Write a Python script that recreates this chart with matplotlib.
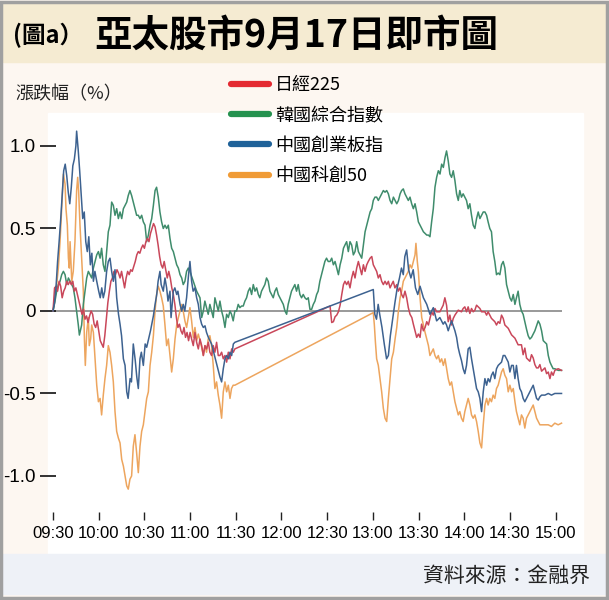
import matplotlib.pyplot as plt
from matplotlib.lines import Line2D
from matplotlib.patches import Rectangle

# (minutes after 09:30, % change)
nikkei = [
    (0, 0), (1, 0.14), (2, 0.15), (3, 0.12), (4, 0.18), (5, 0.15), (6, 0.08), (7, 0.12), (8, 0.14),
    (9, 0.18), (10, 0.16), (11, 0.18), (12, 0.16), (13, 0.18), (14, 0.12), (15, 0.14), (16, 0.1),
    (17, 0.06), (18, 0.02), (19, -0.02), (20, 0.01), (21, -0.05), (22, -0.03), (23, -0.07), (24, -0.03),
    (25, 0.0), (26, -0.02), (27, -0.08), (28, -0.1), (29, -0.06), (30, -0.12), (31, -0.18), (32, -0.2),
    (33, -0.22), (34, -0.15), (35, -0.05), (36, 0.05), (37, 0.12), (38, 0.18), (39, 0.2), (40, 0.24),
    (41, 0.22), (42, 0.25), (43, 0.23), (44, 0.2), (45, 0.24), (46, 0.19), (47, 0.14), (48, 0.2),
    (49, 0.24), (50, 0.22), (51, 0.25), (52, 0.24), (53, 0.27), (54, 0.3), (55, 0.34), (56, 0.36),
    (57, 0.35), (58, 0.38), (59, 0.4), (60, 0.38), (61, 0.42), (62, 0.44), (63, 0.42), (64, 0.47),
    (65, 0.5), (66, 0.53), (67, 0.51), (68, 0.46), (69, 0.4), (70, 0.33), (71, 0.28), (72, 0.26),
    (73, 0.3), (74, 0.25), (75, 0.2), (76, 0.24), (77, 0.2), (78, 0.14), (79, 0.1), (80, 0.04),
    (81, -0.04), (82, -0.1), (83, -0.08), (84, -0.12), (85, -0.14), (86, -0.1), (87, -0.16), (88, -0.13),
    (89, -0.18), (90, -0.13), (91, -0.17), (92.1, -0.21), (93.2, -0.13), (94.3, -0.19), (95.4, -0.23),
    (96.5, -0.17), (97.6, -0.21), (98.7, -0.27), (99.8, -0.21), (100.8, -0.23), (102, -0.19),
    (103, -0.25), (104.1, -0.27), (105.2, -0.21), (106.3, -0.25), (107.4, -0.19), (108.5, -0.27),
    (109.6, -0.27), (110.7, -0.25), (111.8, -0.29), (112.9, -0.27), (114, -0.31), (115.1, -0.25),
    (116.2, -0.29), (117.3, -0.23), (118.4, -0.25), (119.4, -0.23),
    (181.9, 0.03), (183, -0.07), (184.1, -0.065), (185.2, -0.035), (186.3, -0.025), (187.4, -0.005),
    (188.5, 0.035), (189.6, 0.1), (190.7, 0.16), (191.7, 0.18), (192.8, 0.16), (193.9, 0.18),
    (195, 0.14), (196.1, 0.2), (197.2, 0.24), (198.3, 0.2), (199.4, 0.26), (200.5, 0.3), (201.6, 0.26),
    (202.7, 0.22), (203.8, 0.28), (204.9, 0.24), (206, 0.28), (207, 0.3), (208.2, 0.32), (209.3, 0.33),
    (210.3, 0.28), (211.4, 0.26), (212.5, 0.24), (213.6, 0.2), (214.7, 0.22), (215.8, 0.18),
    (216.9, 0.16), (218, 0.18), (219.1, 0.16), (220.2, 0.18), (221.3, 0.14), (222.3, 0.16),
    (223.4, 0.18), (224.5, 0.14), (225.7, 0.16), (226.7, 0.12), (227.8, 0.14), (228.9, 0.1),
    (230, 0.08), (231.1, 0.12), (232.2, 0.08), (233.3, 0.02), (234.4, -0.02), (235.6, -0.04),
    (236.6, -0.08), (237.7, -0.12), (238.8, -0.16), (239.9, -0.14), (241, -0.16), (242, -0.08),
    (243.2, -0.12), (244.3, -0.1), (245.4, -0.065), (246.5, -0.085), (247.5, -0.045), (248.6, -0.005),
    (249.7, -0.025), (250.8, 0.015), (251.9, -0.005), (254, -0.005), (256.2, 0.035), (257.3, 0.08),
    (258.4, 0.035), (259.5, -0.065), (260.6, -0.025), (261.7, -0.085), (262.8, -0.045), (263.9, -0.025),
    (266.1, 0.005), (268.2, -0.005), (269.3, 0.015), (270.4, 0.025), (271.5, -0.005), (272.6, 0.025),
    (273.7, -0.015), (274.8, 0.015), (275.9, -0.005), (277, 0.005), (278.1, 0.035), (279.2, 0.025),
    (280.3, 0.015), (281.4, -0.005), (283.6, -0.005), (284.7, -0.025), (285.7, -0.005), (286.8, -0.025),
    (287.9, -0.045), (290.1, -0.065), (291.2, -0.085), (292.3, -0.065), (293.4, -0.075), (294.5, -0.025),
    (295.6, -0.045), (296.7, -0.085), (298.9, -0.105), (301.1, -0.145), (303.3, -0.165), (305.4, -0.205),
    (307.6, -0.205), (308.7, -0.265), (309.8, -0.225), (310.9, -0.285), (313.1, -0.305), (314.2, -0.265),
    (315.3, -0.285), (316.4, -0.325), (317.5, -0.345), (318.6, -0.345), (319.7, -0.325), (320.8, -0.365),
    (321.9, -0.355), (323, -0.345), (324.1, -0.38), (325.2, -0.37), (326.3, -0.41), (327.3, -0.37),
    (328.4, -0.39), (329.5, -0.36), (331.7, -0.35), (333.9, -0.36),
]

kospi = [
    (0, 0), (1.3, 0.06), (2.4, 0.12), (3.5, 0.16), (4.6, 0.18), (5.7, 0.22), (6.8, 0.24), (7.9, 0.22),
    (9, 0.16), (10.1, 0.2), (11.2, 0.18), (12.3, 0.16), (13.3, 0.14), (14.4, 0.08), (15.5, 0.0),
    (16.6, -0.085), (17.3, -0.146), (18.8, -0.085), (19.9, 0.04), (21, 0.12), (22.1, 0.2), (23.2, 0.24),
    (24.3, 0.22), (25.4, 0.2), (26.5, 0.26), (27.6, 0.3), (28.7, 0.34), (29.8, 0.36), (30.9, 0.32),
    (31.9, 0.38), (33, 0.28), (34.1, 0.24), (35.2, 0.36), (36.3, 0.48), (37.4, 0.52), (38.5, 0.66),
    (39.6, 0.64), (40.7, 0.58), (41.8, 0.62), (42.9, 0.56), (44, 0.6), (45.1, 0.56), (46.2, 0.62),
    (47.3, 0.64), (48.4, 0.66), (49.4, 0.7), (50.5, 0.73), (51.6, 0.7), (52.7, 0.66), (53.8, 0.62),
    (54.9, 0.58), (56, 0.58), (57.1, 0.56), (58.2, 0.58), (59.3, 0.54), (60.4, 0.52), (61.5, 0.42),
    (62.6, 0.46), (63.7, 0.52), (64.8, 0.56), (65.9, 0.64), (67, 0.73), (68, 0.75), (69.1, 0.69),
    (70.2, 0.6), (71.3, 0.54), (72.4, 0.5), (73.5, 0.52), (74.6, 0.5), (75.7, 0.52), (76.8, 0.44),
    (77.9, 0.38), (79, 0.36), (80.1, 0.32), (81.2, 0.28), (82.3, 0.26), (83.4, 0.22), (84.5, 0.2),
    (85.5, 0.16), (86.6, 0.18), (87.7, 0.24), (88.8, 0.26), (89.9, 0.24), (92.1, 0.18), (94.3, 0.12),
    (96.5, 0.08), (97.6, -0.04), (98.7, 0.0), (99.7, 0.06), (100.8, 0.02), (101.9, -0.02), (103, 0.04),
    (104.1, 0.0), (105.2, -0.04), (106.3, 0.08), (107.4, 0.04), (108.5, 0.0), (109.6, 0.06),
    (110.7, 0.0), (111.8, -0.04), (112.9, -0.1), (114, -0.02), (115.1, -0.04), (116.2, 0.0),
    (117.2, -0.02), (118.3, -0.06), (119.4, 0.0), (120.5, 0.0), (121.6, 0.04), (122.7, 0.02),
    (123.8, 0.03), (124.9, 0.03), (126, 0.06), (127.1, 0.08), (128.2, 0.12), (129.3, 0.14),
    (130.4, 0.1), (131.5, 0.16), (132.6, 0.12), (133.7, 0.14), (134.8, 0.1), (135.8, 0.08),
    (136.9, 0.12), (138, 0.14), (139.1, 0.16), (140.2, 0.2), (141.3, 0.18), (142.4, 0.12),
    (143.5, 0.1), (144.6, 0.08), (145.7, 0.12), (146.8, 0.14), (147.9, 0.1), (149, 0.08), (150.1, 0.06),
    (151.2, 0.04), (152.3, 0.0), (153.4, -0.02), (154.4, 0.04), (155.5, 0.08), (156.6, 0.12),
    (157.7, 0.14), (158.8, 0.16), (159.9, 0.12), (161, 0.16), (162.1, 0.1), (163.2, 0.08), (164.3, 0.1),
    (165.4, 0.08), (166.5, 0.07), (167.6, 0.08), (168.7, 0.01), (169.8, 0.01), (170.9, 0.04),
    (172, 0.06), (173.1, 0.1), (174.1, 0.12), (175.2, 0.18), (176.3, 0.22), (177.4, 0.26),
    (178.5, 0.3), (179.6, 0.32), (180.7, 0.3), (181.9, 0.3), (183, 0.32), (184.1, 0.28), (185.2, 0.3),
    (186.3, 0.26), (187.4, 0.22), (188.5, 0.28), (189.6, 0.32), (190.7, 0.38), (191.7, 0.4),
    (192.8, 0.42), (193.9, 0.36), (195, 0.42), (196.1, 0.4), (197.2, 0.34), (198.3, 0.36),
    (199.4, 0.42), (200.5, 0.36), (201.6, 0.34), (202.7, 0.32), (203.8, 0.4), (204.9, 0.48),
    (206, 0.52), (207.1, 0.56), (208.2, 0.6), (209.3, 0.62), (210.3, 0.67), (211.4, 0.69),
    (212.5, 0.69), (213.6, 0.67), (214.7, 0.69), (215.8, 0.71), (216.9, 0.73), (218, 0.72),
    (219.1, 0.73), (220.2, 0.71), (221.3, 0.67), (222.4, 0.65), (223.5, 0.69), (224.6, 0.67),
    (225.7, 0.65), (226.8, 0.67), (227.9, 0.71), (228.9, 0.73), (230, 0.74), (231.1, 0.71),
    (232.2, 0.69), (233.3, 0.67), (234.4, 0.69), (235.5, 0.65), (236.6, 0.62), (237.7, 0.65),
    (238.8, 0.6), (239.9, 0.54), (241, 0.52), (242.1, 0.5), (243.2, 0.48), (244.3, 0.47),
    (245.4, 0.46), (246.5, 0.46), (247.5, 0.45), (248.6, 0.54), (249.7, 0.62), (250.8, 0.75),
    (251.9, 0.81), (253, 0.85), (254.1, 0.83), (255.2, 0.89), (256.3, 0.87), (257.4, 0.93),
    (258.4, 0.97), (259.5, 0.91), (260.6, 0.83), (261.7, 0.81), (262.8, 0.85), (263.9, 0.79),
    (265, 0.71), (266.1, 0.67), (267.1, 0.73), (268.2, 0.69), (269.3, 0.71), (270.4, 0.69),
    (271.5, 0.67), (272.6, 0.62), (273.7, 0.65), (274.8, 0.58), (275.9, 0.52), (277, 0.5),
    (278.1, 0.56), (279.2, 0.6), (280.3, 0.56), (281.4, 0.58), (282.5, 0.6), (283.6, 0.6),
    (284.7, 0.58), (285.7, 0.54), (286.8, 0.5), (287.9, 0.48), (289, 0.36), (290.1, 0.3),
    (291.2, 0.22), (292.3, 0.23), (293.4, 0.22), (294.5, 0.28), (295.6, 0.3), (296.7, 0.26),
    (297.8, 0.16), (298.9, 0.12), (300, 0.08), (301.1, 0.06), (302.2, 0.1), (303.3, 0.04),
    (304.3, 0.08), (305.4, 0.12), (306.5, 0.04), (307.6, 0.0), (308.7, -0.02), (309.8, -0.065),
    (310.9, -0.11), (312, -0.15), (313.1, -0.17), (314.2, -0.16), (315.3, -0.14), (316.4, -0.12),
    (317.5, -0.09), (318.6, -0.06), (319.7, -0.08), (320.8, -0.12), (321.9, -0.18), (323, -0.19),
    (324.1, -0.2), (325.2, -0.27), (326.3, -0.31), (327.3, -0.33), (328.4, -0.35), (329.5, -0.35),
    (331.7, -0.36), (333.9, -0.36),
]

chinext = [
    (0, 0), (1, 0.05), (2, 0.15), (3, 0.3), (4, 0.42), (5, 0.55), (6, 0.7), (7, 0.85), (8, 0.89),
    (9, 0.82), (10, 0.72), (11, 0.65), (12, 0.75), (13, 0.88), (14, 0.92), (15, 1.0), (15.5, 1.09),
    (16.5, 0.98), (17.5, 0.85), (18.5, 0.7), (19.5, 0.56), (20.5, 0.6), (21.5, 0.42), (22.5, 0.36),
    (23.5, 0.45), (24.5, 0.28), (25.5, 0.35), (26.5, 0.18), (27.5, 0.24), (28.7, 0.18), (30, 0.12),
    (31, 0.08), (32, 0.14), (33, 0.08), (34, 0.12), (35.2, 0.24), (36.3, 0.3), (37.4, 0.32),
    (38.5, 0.24), (39.6, 0.18), (40.7, 0.25), (41.8, 0.08), (43, -0.02), (44, -0.08), (45, -0.15),
    (46.2, -0.29), (47.3, -0.33), (48.4, -0.49), (49.3, -0.53), (50.6, -0.41), (51.5, -0.43),
    (52.7, -0.2), (54, -0.3), (55, -0.4), (56, -0.47), (57.1, -0.29), (58, -0.25), (59.3, -0.33),
    (60.5, -0.2), (61.5, -0.22), (63, -0.16), (64, -0.12), (65.9, -0.03), (67, 0.04), (68.1, 0.1),
    (69, 0.18), (70.2, 0.24), (71, 0.16), (72.4, 0.12), (73.5, 0.2), (74.6, 0.14), (75.5, 0.06),
    (76.8, 0.12), (77.5, -0.04), (79, 0.12), (80, 0.14), (81.2, 0.1), (82, 0.12), (83.4, 0.04),
    (84.5, 0.0), (85.5, 0.04), (86.5, 0.0), (87.7, 0.08), (89, 0.22), (89.9, 0.3), (91, 0.18),
    (92, 0.12), (93.2, 0.14), (94.3, 0.08), (95.4, 0.04), (96.5, -0.04), (97.6, -0.08), (98.7, -0.1),
    (99.8, -0.09), (100.8, -0.13), (102, -0.16), (103, -0.18), (104.1, -0.2), (105.2, -0.24),
    (106.3, -0.28), (107.4, -0.32), (108.5, -0.36), (109.6, -0.4), (110.7, -0.43), (111.8, -0.35),
    (112.9, -0.29), (114, -0.27), (115.1, -0.29), (116.2, -0.25), (117.3, -0.27), (118.4, -0.2),
    (119.4, -0.19),
    (210.3, 0.13), (211.3, -0.02), (212.4, -0.05), (213.5, 0.04), (214.5, -0.02), (216, -0.1),
    (217.5, -0.2), (219, -0.29), (220.2, -0.27), (221.5, -0.15), (223, -0.05), (224.5, 0.05),
    (226, 0.14), (227.5, 0.2), (228.8, 0.26), (230, 0.22), (231, 0.33), (232.2, 0.37), (233.5, 0.25),
    (235, 0.2), (236.5, 0.25), (238, 0.14), (239.5, 0.1), (241, 0.15), (243.2, 0.08), (245.4, 0.04),
    (247.5, -0.02), (249.7, 0.02), (251.9, -0.06), (254, -0.04), (256.2, -0.08), (257.3, -0.065),
    (258.4, -0.085), (259.5, -0.12), (260.7, -0.085), (261.7, -0.06), (263.9, -0.12), (265, -0.16),
    (266, -0.22), (267, -0.26), (268.2, -0.3), (269.3, -0.35), (270.4, -0.38), (271.5, -0.33),
    (272.6, -0.23), (273.7, -0.22), (274.8, -0.29), (275.9, -0.35), (277, -0.41), (278.1, -0.47),
    (279.2, -0.49), (280.3, -0.53), (281.4, -0.61), (282.5, -0.49), (283.6, -0.41), (284.7, -0.45),
    (285.7, -0.41), (286.8, -0.43), (287.9, -0.39), (289, -0.37), (290.1, -0.41), (291.2, -0.35),
    (292.3, -0.33), (294.5, -0.31), (295.6, -0.27), (296.7, -0.27), (297.8, -0.29), (298.9, -0.31),
    (300, -0.37), (301.1, -0.33), (302.2, -0.33), (303.3, -0.41), (304.3, -0.33), (305.4, -0.41),
    (306.5, -0.47), (307.6, -0.49), (308.7, -0.53), (309.8, -0.55), (310.9, -0.53), (312, -0.51),
    (313.1, -0.49), (314.2, -0.47), (315.3, -0.45), (316.4, -0.49), (317.5, -0.53), (318.6, -0.54),
    (319.7, -0.52), (320.8, -0.51), (323, -0.51), (325.2, -0.5), (327.3, -0.51), (329.5, -0.5),
    (331.7, -0.5), (333.9, -0.5),
]

star50 = [
    (0, 0), (1.3, 0.08), (2.4, 0.16), (3.5, 0.26), (4.6, 0.42), (5.7, 0.62), (6.8, 0.83), (7.9, 0.77),
    (8.5, 0.62), (9.4, 0.52), (10.1, 0.32), (10.7, 0.26), (11.2, 0.42), (11.8, 0.28), (12.3, 0.18),
    (13.3, 0.24), (14.4, 0.42), (15.5, 0.73), (16.2, 0.81), (16.8, 0.73), (17.7, 0.52), (18.8, 0.32),
    (19.9, 0.12), (20.6, -0.17), (21.2, -0.33), (22.1, -0.13), (23.2, -0.04), (23.8, -0.21),
    (24.7, -0.17), (25.4, -0.085), (26.5, -0.13), (27.6, -0.29), (28.7, -0.45), (29.8, -0.55),
    (30.9, -0.53), (31.9, -0.63), (33, -0.51), (34.1, -0.41), (35.2, -0.33), (36.3, -0.21),
    (37.4, -0.25), (38.5, -0.33), (39.6, -0.43), (40.7, -0.61), (41.8, -0.73), (42.9, -0.77),
    (44, -0.8), (45.1, -0.9), (46.2, -0.94), (47.3, -1.0), (48.4, -1.06), (49.4, -1.08), (50.5, -1.02),
    (51.6, -1.0), (52.7, -0.82), (53.8, -0.75), (54.9, -0.86), (56, -0.98), (57.1, -0.82),
    (58.2, -0.73), (59.3, -0.69), (60.4, -0.61), (61.5, -0.53), (62.6, -0.49), (63.7, -0.33),
    (64.8, -0.25), (65.9, -0.15), (67, 0.0), (68, 0.1), (69.1, 0.15), (70.2, 0.12), (71.3, 0.08),
    (72.4, 0.03), (73.5, -0.085), (74.6, -0.21), (75.7, -0.17), (76.8, -0.27), (77.9, -0.37),
    (79, -0.29), (80.1, -0.17), (81.2, -0.085), (82.3, -0.04), (83.4, 0.0), (84.5, 0.04), (85.5, 0.0),
    (86.6, -0.06), (87.7, -0.1), (88.8, -0.04), (89.9, 0.02), (91, -0.06), (92.1, -0.16), (93.2, -0.1),
    (94.3, -0.18), (95.4, -0.14), (96.5, -0.18), (97.6, -0.22), (98.7, -0.27), (99.7, -0.21),
    (100.8, -0.25), (101.9, -0.17), (103, -0.15), (104.1, -0.21), (105.2, -0.33), (106.3, -0.47),
    (107.4, -0.43), (108.5, -0.51), (109.6, -0.57), (110.7, -0.65), (111.8, -0.49), (112.9, -0.43),
    (114, -0.49), (115.1, -0.45), (116.2, -0.53), (117.2, -0.47), (118.3, -0.45), (119.4, -0.45),
    (210.3, -0.01), (211, -0.085), (211.7, -0.19), (212.5, -0.29), (213.6, -0.33), (214.7, -0.41),
    (215.8, -0.49), (216.9, -0.59), (218, -0.65), (219.1, -0.67), (220.2, -0.53), (221.3, -0.41),
    (222.4, -0.29), (223.5, -0.25), (224.6, -0.17), (225.7, -0.1), (226.8, 0.0), (227.9, 0.08),
    (228.9, 0.12), (230, 0.18), (231.1, 0.2), (232.2, 0.22), (233.3, 0.24), (234.4, 0.28),
    (235.5, 0.26), (236.6, 0.3), (237.7, 0.34), (238.3, 0.41), (239.2, 0.3), (239.9, 0.24),
    (241, 0.08), (242.1, -0.04), (243.2, -0.085), (244.3, -0.13), (245.4, -0.17), (246.5, -0.21),
    (247.5, -0.27), (248.6, -0.25), (249.7, -0.23), (250.8, -0.27), (251.9, -0.29), (253, -0.27),
    (254.1, -0.31), (255.2, -0.29), (256.3, -0.33), (257.4, -0.29), (259.5, -0.41), (260.6, -0.45),
    (261.7, -0.43), (262.8, -0.49), (263.9, -0.55), (265, -0.59), (266.1, -0.63), (267.1, -0.61),
    (268.2, -0.65), (269.3, -0.67), (270.4, -0.61), (271.5, -0.57), (272.6, -0.53), (273.7, -0.57),
    (274.8, -0.63), (275.9, -0.65), (277, -0.63), (278.1, -0.67), (279.2, -0.73), (280.3, -0.8),
    (281.4, -0.83), (282.5, -0.69), (283.6, -0.57), (284.7, -0.53), (285.7, -0.57), (286.8, -0.53),
    (287.9, -0.55), (289, -0.51), (290.1, -0.53), (291.2, -0.47), (292.3, -0.45), (293.4, -0.41),
    (294.5, -0.37), (295.6, -0.35), (296.7, -0.39), (297.8, -0.41), (298.9, -0.49), (300, -0.45),
    (301.1, -0.49), (302.2, -0.47), (303.3, -0.55), (304.3, -0.61), (305.4, -0.65), (306.5, -0.69),
    (307.6, -0.63), (308.7, -0.65), (309.8, -0.71), (310.9, -0.65), (312, -0.63), (313.1, -0.61),
    (314.2, -0.59), (315.3, -0.57), (316.4, -0.61), (317.5, -0.65), (318.6, -0.67), (319.7, -0.69),
    (320.8, -0.69), (323, -0.69), (325.2, -0.69), (327.3, -0.7), (329.5, -0.68), (331.7, -0.69),
    (333.9, -0.68),
]

names = ['日經225', '韓國綜合指數', '中國創業板指', '中國科創50']
line_cols = ['#c9475a', '#3f8c6c', '#3d6290', '#eda55e']
leg_cols = ['#e42a32', '#25924f', '#1f6299', '#f09b36']
tick_pos = [0, 30, 60, 90, 120, 150, 180, 210, 240, 270, 300, 330]
tick_lab = ['09:30', '10:00', '10:30', '11:00', '11:30', '12:00',
            '12:30', '13:00', '13:30', '14:00', '14:30', '15:00']
y_pos = [1.0, 0.5, 0, -0.5, -1.0]
y_lab = ['1.0', '0.5', '0', '-0.5', '-1.0']

cjk = ['Noto Sans CJK TC', 'DejaVu Sans']
num_font = ['Liberation Sans', 'DejaVu Sans']

W, H = 609, 600
fig = plt.figure(figsize=(W / 100, H / 100), dpi=100, facecolor='#fdf7f1')


def px(x, y, w, h):
    # pixel box (top-left origin) -> figure fraction
    return (x / W, 1 - (y + h) / H, w / W, h / H)


# background panels
for box, col in [((3, 3, 603, 59), '#f5ebd2'), ((48, 113, 535, 441), 'white'),
                 ((3, 554, 603, 40), '#eef1f7')]:
    x0, y0, w0, h0 = px(*box)
    fig.patches.append(Rectangle((x0, y0), w0, h0, transform=fig.transFigure, color=col, zorder=0))
fig.patches.append(Rectangle((0.002, 0.004), 0.994, 0.993, transform=fig.transFigure, fill=False,
                             edgecolor='#a0a0a0', lw=2.5, zorder=5))

ax = fig.add_axes(px(48, 113, 535, 407))
ax.set_facecolor('none')
ax.set_zorder(2)

series = [nikkei, kospi, chinext, star50]
ax.hlines(0, nikkei[0][0], nikkei[-1][0], color='#999999', lw=1.4, zorder=1)
for z, i in enumerate([3, 1, 0, 2]):
    t, v = zip(*series[i])
    ax.plot(t, v, color=line_cols[i], lw=1.1, zorder=2 + z)

ax.set_xlim(-3.3, 348)
ax.set_ylim(-1.267, 1.2)
for s in ax.spines.values():
    s.set_visible(False)

ax.set_xticks(tick_pos)
ax.set_xticklabels(tick_lab, family=num_font, fontsize=12)
ax.tick_params(axis='x', direction='in', length=6, width=1, color='#222222', pad=4)
ax.set_yticks(y_pos)
ax.set_yticklabels(y_lab, family=num_font, fontsize=13.5)
ax.tick_params(axis='y', direction='inout', length=11, width=1.3, color='#222222', pad=3.5)

handles = [Line2D([], [], color=c, lw=4.5, solid_capstyle='round') for c in leg_cols]
fig.legend(handles, names, loc='upper left', bbox_to_anchor=(231 / W, 1 - 76 / H), frameon=False,
           prop={'family': cjk, 'size': 13}, handlelength=2.1, handletextpad=0.35,
           labelspacing=0.68, borderpad=0, borderaxespad=0)

fig.text(15 / W, 1 - 94 / H, '漲跌幅（%）', family=cjk, fontsize=13, va='center', ha='left', color='#222222')
fig.text(13 / W, 1 - 35 / H, '(圖a）', family=cjk, fontsize=17, fontweight='bold', va='center', ha='left')
fig.text(94 / W, 1 - 35 / H, '亞太股市9月17日即市圖', family=cjk, fontsize=27, fontweight='heavy',
         va='center', ha='left')
fig.text(590 / W, 1 - 576 / H, '資料來源：金融界', family=cjk, fontsize=15, va='center', ha='right',
         color='#222222')

fig.savefig('out.png', dpi=100, facecolor=fig.get_facecolor())
